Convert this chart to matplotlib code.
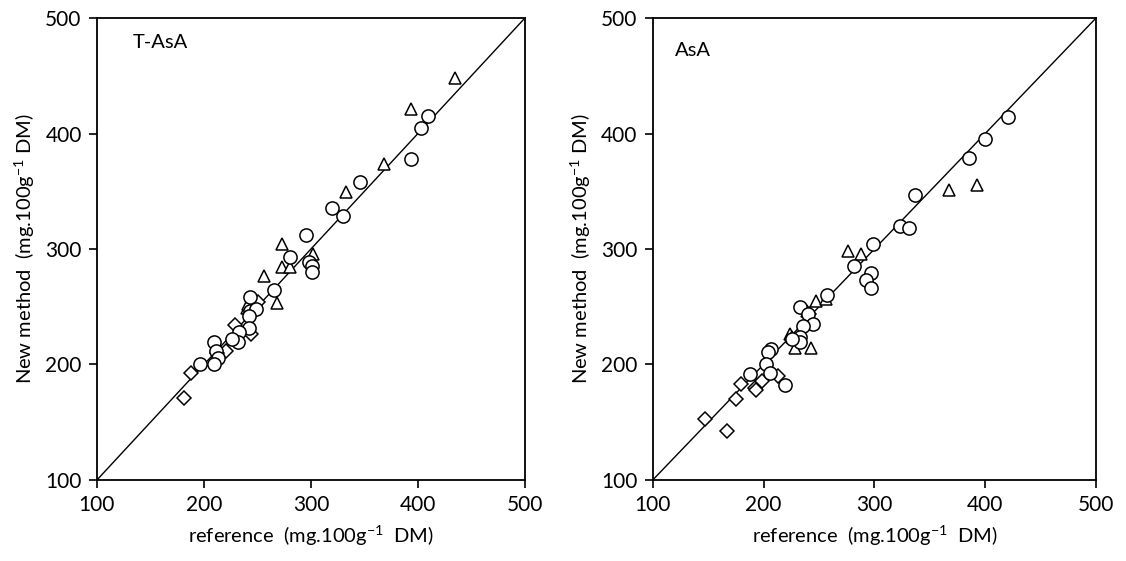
import matplotlib
matplotlib.use("Agg")
import matplotlib.pyplot as plt
import numpy as np

plt.rcParams['font.family'] = ['Lato', 'DejaVu Sans']
plt.rcParams['mathtext.fontset'] = 'custom'
plt.rcParams['mathtext.rm'] = 'Lato'
plt.rcParams['mathtext.it'] = 'Lato:italic'

# ---- T-AsA panel data (reference, new method) ----
tasa_circle_x = [409, 403, 393.5, 346, 319.5, 330, 295, 280, 298, 301, 301, 265.5,
                 243.5, 243, 249, 242.5, 242.5, 233, 231.5, 226, 209.5, 211, 213.5, 209.5, 196]
tasa_circle_y = [415.5, 405, 377.5, 358, 335.5, 329, 312, 293.5, 289, 285, 280.5, 264.5,
                 258.5, 246, 248, 242, 232, 228, 219.5, 222.5, 219.5, 211.5, 206, 200.5, 200.5]
tasa_tri_x = [435, 393.5, 368.5, 333, 302, 273, 273, 280, 256, 268.5, 240, 241]
tasa_tri_y = [448, 421, 374, 349.5, 296, 304.5, 284, 284, 277, 253.5, 249, 252]
tasa_dia_x = [181.5, 188, 221, 229, 244, 250.5, 212]
tasa_dia_y = [171, 193, 211.5, 234.5, 226, 254.5, 210]

# ---- AsA panel data ----
asa_circle_x = [421, 400, 385, 337, 323.5, 331, 298.5, 282, 297, 292, 297, 257,
                232.5, 240, 245, 236, 233, 233, 226, 207, 204, 202.5, 206, 188, 219]
asa_circle_y = [414, 395, 379, 347, 319.5, 318, 304, 285, 279, 273, 266, 260,
                250, 244, 235, 233.5, 224, 219.5, 222.5, 213.5, 210.5, 200.5, 192.5, 191.5, 182.5]
asa_tri_x = [392.5, 367, 276.5, 287.5, 247, 256, 239, 224, 228.5, 243, 226]
asa_tri_y = [355.5, 351.5, 298.5, 296, 255, 256.5, 246, 226.5, 214, 214, 224]
asa_dia_x = [147, 167, 175, 180, 192.5, 193.5, 199, 213, 241]
asa_dia_y = [152.5, 142.5, 170.5, 183, 180, 178, 185.5, 190, 244]

ticks = [100, 200, 300, 400, 500]
panel_titles = ["T-AsA", "AsA"]
xlabel = r"reference  (mg.100g$^{-1}$  DM)"
ylabel = r"New method  (mg.100g$^{-1}$ DM)"

fig = plt.figure(figsize=(11.26, 5.61), dpi=100)
ax1 = fig.add_axes([0.0861, 0.1444, 0.3801, 0.8235])
ax2 = fig.add_axes([0.5797, 0.1444, 0.3937, 0.8235])

panels = [
    (ax1, tasa_circle_x, tasa_circle_y, tasa_tri_x, tasa_tri_y, tasa_dia_x, tasa_dia_y, (133, 479)),
    (ax2, asa_circle_x, asa_circle_y, asa_tri_x, asa_tri_y, asa_dia_x, asa_dia_y, (120, 472)),
]

mk = dict(linestyle='none', markerfacecolor='white', markeredgecolor='black',
          markeredgewidth=1.1)
for (ax, cx, cy, tx, ty, dx, dy, tpos), title in zip(panels, panel_titles):
    ax.plot([100, 500], [100, 500], color='black', lw=1.0, zorder=1)
    ax.plot(dx, dy, marker='D', markersize=7.5, zorder=2, **mk)
    ax.plot(tx, ty, marker='^', markersize=8.5, zorder=3, **mk)
    ax.plot(cx, cy, marker='o', markersize=9.5, zorder=4, **mk)
    ax.set_xlim(100, 500)
    ax.set_ylim(100, 500)
    ax.set_xticks(ticks)
    ax.set_yticks(ticks)
    ax.tick_params(direction='out', length=6, width=1.2, labelsize=15, pad=5)
    for s in ax.spines.values():
        s.set_linewidth(1.3)
    ax.set_xlabel(xlabel, fontsize=14.5, labelpad=6)
    ax.set_ylabel(ylabel, fontsize=14.5, labelpad=6)
    ax.text(tpos[0], tpos[1], title, fontsize=14.5, ha='left', va='center')

fig.savefig("out.png", dpi=100)
